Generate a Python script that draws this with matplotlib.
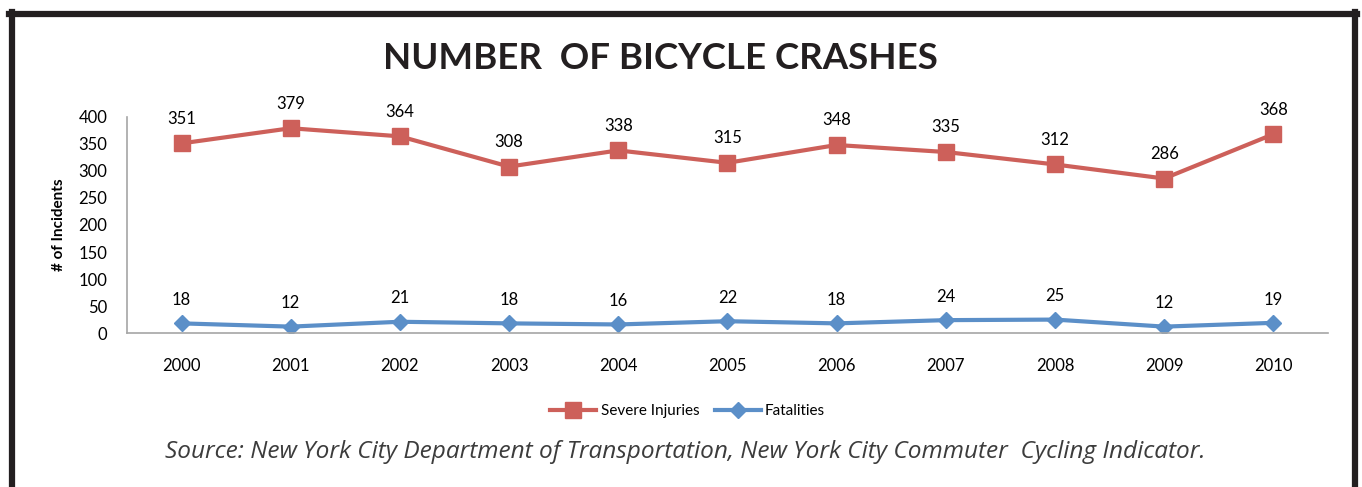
import matplotlib
matplotlib.use("Agg")
import matplotlib.pyplot as plt
from matplotlib.lines import Line2D

years = ["2000", "2001", "2002", "2003", "2004", "2005", "2006", "2007", "2008", "2009", "2010"]
severe_injuries = [351, 379, 364, 308, 338, 315, 348, 335, 312, 286, 368]
fatalities = [18, 12, 21, 18, 16, 22, 18, 24, 25, 12, 19]

red = "#CD605A"
blue = "#5B8FC8"

plt.rcParams["font.family"] = ["Lato", "DejaVu Sans"]

fig = plt.figure(figsize=(13.62, 4.87), dpi=100)

# black frame round the chart (top, left, right)
fig.add_artist(Line2D([0.0085, 0.0085], [0, 0.975], color="#231F20", lw=4.5, transform=fig.transFigure))
fig.add_artist(Line2D([0.0068, 0.9965], [0.972, 0.972], color="#231F20", lw=4.5, transform=fig.transFigure))
fig.add_artist(Line2D([0.995, 0.995], [0, 0.975], color="#231F20", lw=4.5, transform=fig.transFigure))

ax = fig.add_axes([0.0932, 0.316, 0.8818, 0.444])
x = list(range(len(years)))

ax.plot(x, severe_injuries, color=red, lw=3, marker="s", ms=11, label="Severe Injuries")
ax.plot(x, fatalities, color=blue, lw=3, marker="D", ms=8, label="Fatalities")

for i, v in enumerate(severe_injuries):
    ax.annotate(str(v), (i, v), xytext=(0, 12), textcoords="offset points",
                ha="center", va="bottom", fontsize=12)
for i, v in enumerate(fatalities):
    ax.annotate(str(v), (i, v), xytext=(0, 11), textcoords="offset points",
                ha="center", va="bottom", fontsize=12)

ax.set_xlim(-0.5, len(years) - 0.5)
ax.set_ylim(0, 400)
ax.set_yticks(range(0, 401, 50))
ax.set_xticks(x)
ax.set_xticklabels(years)
ax.tick_params(axis="both", length=0, labelsize=12)
ax.tick_params(axis="x", pad=18)
ax.tick_params(axis="y", pad=14)
for s in ["top", "right"]:
    ax.spines[s].set_visible(False)
for s in ["left", "bottom"]:
    ax.spines[s].set_color("#A6A6A6")
    ax.spines[s].set_linewidth(1.2)

ax.set_ylabel("# of Incidents", fontsize=11, fontweight="bold", labelpad=9)

fig.text(0.4846, 0.880, "NUMBER  OF BICYCLE CRASHES", ha="center", va="center",
         fontsize=26.4, fontweight="bold", color="#231F20")

ax.legend(loc="center", bbox_to_anchor=(0.505, 0.156), bbox_transform=fig.transFigure,
          ncol=2, frameon=False, fontsize=11, handlelength=3.0, columnspacing=1.0,
          handletextpad=0.3, borderaxespad=0)

fig.text(0.503, 0.072, "Source: New York City Department of Transportation, New York City Commuter  Cycling Indicator.",
         ha="center", va="center", fontsize=17.6, style="italic", family=["Open Sans", "DejaVu Sans"],
         color="#3C3C3C")

fig.savefig("out.png", dpi=100)
